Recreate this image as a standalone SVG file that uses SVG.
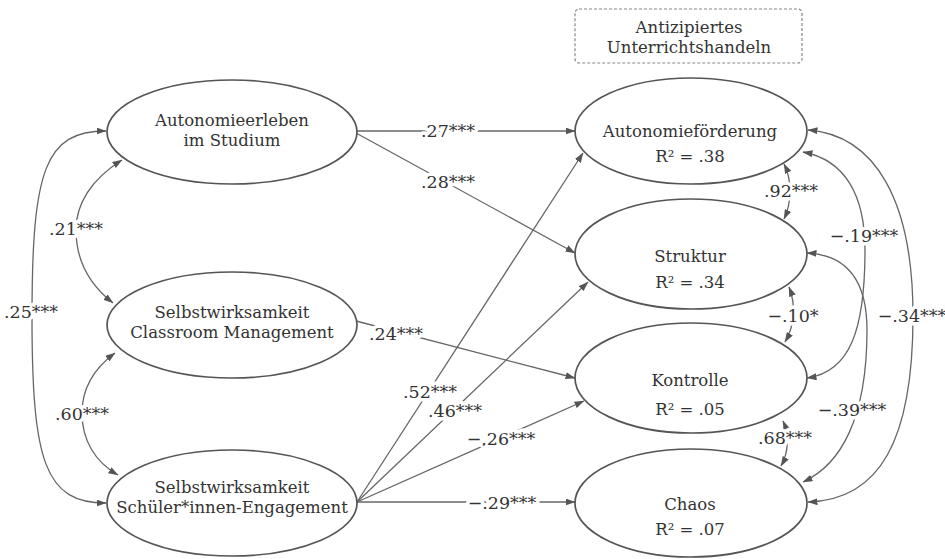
<svg xmlns="http://www.w3.org/2000/svg" width="945" height="559" viewBox="0 0 945 559">
<defs>
<marker id="arr" markerUnits="userSpaceOnUse" markerWidth="10" markerHeight="7" refX="9.5" refY="3.5" orient="auto-start-reverse">
<path d="M0,0 L10,3.5 L0,7 z" fill="#555"/>
</marker>
<style>
.node ellipse{fill:#fff;stroke:#555;stroke-width:1.7}
.t{font-family:"DejaVu Serif","Liberation Serif",serif;font-size:16.5px;fill:#333;text-anchor:middle}
.lbl{font-family:"DejaVu Serif","Liberation Serif",serif;font-size:17.5px;fill:#333;text-anchor:middle;stroke:#fff;stroke-width:7;paint-order:stroke;stroke-linejoin:round}
.c path{fill:none;stroke:#666;stroke-width:1.3}
.one{marker-end:url(#arr)}
.two{marker-start:url(#arr);marker-end:url(#arr)}
</style>
</defs>
<rect width="945" height="559" fill="#fff"/>
<g id="connectors" class="c">
<path class="one" d="M357,131 L575,131"/>
<path class="one" d="M356,133 L575,253"/>
<path class="one" d="M356,321 L575,378"/>
<path class="one" d="M357,502 L583,153"/>
<path class="one" d="M357,502 L588,282"/>
<path class="one" d="M357,502 L584,401"/>
<path class="one" d="M357,502 L575,502"/>
<path class="two" d="M106,131 C45,131 32,170 32,317 C32,462 45,503 106,503"/>
<path class="two" d="M122,160 C90,180 76,205 76,230 C76,260 90,285 113,303"/>
<path class="two" d="M115,353 C92,370 82,390 82,413 C82,440 95,462 118,475"/>
<path class="two" d="M784,164 C792,180 792,202 784,219"/>
<path class="two" d="M789,287 C796,305 795,325 785,342"/>
<path class="two" d="M783,421 C789,435 789,452 781,466"/>
<path class="two" d="M803,152 C845,160 865,195 865,250 C865,330 850,372 807,378"/>
<path class="two" d="M807,253 C850,255 867,285 867,330 C867,420 840,465 803,482"/>
<path class="two" d="M808,130 C875,135 913,200 913,316 C913,440 880,500 808,502"/>
<text class="lbl" x="448" y="137">.27***</text>
<text class="lbl" x="448" y="188">.28***</text>
<text class="lbl" x="396" y="340">.24***</text>
<text class="lbl" x="430" y="398">.52***</text>
<text class="lbl" x="455" y="417">.46***</text>
<text class="lbl" x="501" y="445">−.26***</text>
<text class="lbl" x="502" y="509">−.29***</text>
<text class="lbl" x="31" y="318">.25***</text>
<text class="lbl" x="76" y="235">.21***</text>
<text class="lbl" x="82" y="420">.60***</text>
<text class="lbl" x="791" y="197">.92***</text>
<text class="lbl" x="793" y="322">−.10*</text>
<text class="lbl" x="785" y="444">.68***</text>
<text class="lbl" x="864" y="242">−.19***</text>
<text class="lbl" x="852" y="416">−.39***</text>
<text class="lbl" x="912" y="322">−.34***</text>
</g>
<g id="header">
<rect x="575" y="9" width="227" height="54" rx="4" fill="#fff" stroke="#888" stroke-width="1.2" stroke-dasharray="3,2"/>
<text class="t" x="689" y="33">Antizipiertes</text>
<text class="t" x="689" y="53">Unterrichtshandeln</text>
</g>
<g id="autonomieerleben" class="node">
<ellipse cx="232" cy="132" rx="125" ry="52"/>
<text class="t" x="232" y="126">Autonomieerleben</text>
<text class="t" x="232" y="146">im Studium</text>
</g>
<g id="swk-classroom" class="node">
<ellipse cx="232" cy="325" rx="125" ry="53"/>
<text class="t" x="232" y="318">Selbstwirksamkeit</text>
<text class="t" x="232" y="338">Classroom Management</text>
</g>
<g id="swk-engagement" class="node">
<ellipse cx="232" cy="503" rx="125" ry="53"/>
<text class="t" x="232" y="493">Selbstwirksamkeit</text>
<text class="t" x="232" y="513">Schüler*innen-Engagement</text>
</g>
<g id="autonomiefoerderung" class="node">
<ellipse cx="691" cy="131" rx="116" ry="53"/>
<text class="t" x="690" y="137">Autonomieförderung</text>
<text class="t" x="690" y="162">R² = .38</text>
</g>
<g id="struktur" class="node">
<ellipse cx="691" cy="254" rx="116" ry="55"/>
<text class="t" x="690" y="262">Struktur</text>
<text class="t" x="690" y="288">R² = .34</text>
</g>
<g id="kontrolle" class="node">
<ellipse cx="691" cy="378" rx="116" ry="55"/>
<text class="t" x="690" y="386">Kontrolle</text>
<text class="t" x="690" y="415">R² = .05</text>
</g>
<g id="chaos" class="node">
<ellipse cx="691" cy="503" rx="116" ry="54"/>
<text class="t" x="690" y="510">Chaos</text>
<text class="t" x="690" y="535">R² = .07</text>
</g>
</svg>
